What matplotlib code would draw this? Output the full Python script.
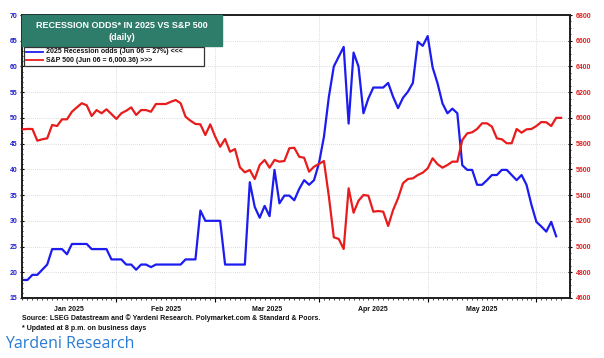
import numpy as np
import pandas as pd
import matplotlib
matplotlib.use("Agg")
import matplotlib.pyplot as plt
from matplotlib.patches import Rectangle
from matplotlib.lines import Line2D
from matplotlib.ticker import MultipleLocator, FixedLocator, NullFormatter

plt.rcParams['font.family'] = ['Liberation Sans', 'DejaVu Sans']

# daily readings, business days from Jan 7 2025
recession_odds = [
    18.5, 18.5, 19.5, 19.5, 20.5, 21.5, 24.5, 24.5, 24.5, 23.5,
    25.5, 25.5, 25.5, 25.5, 24.5, 24.5, 24.5, 24.5, 22.5, 22.5,
    22.5, 21.5, 21.5, 20.5, 21.5, 21.5, 21.0, 21.5, 21.5, 21.5,
    21.5, 21.5, 21.5, 22.5, 22.5, 22.5, 32.0, 30.0, 30.0, 30.0,
    30.0, 21.5, 21.5, 21.5, 21.5, 21.5, 37.5, 32.7, 30.6, 32.9,
    30.9, 39.9, 33.4, 34.9, 34.9, 34.0, 36.2, 37.9, 37.0, 37.9,
    41.2, 46.3, 54.1, 60.0, 61.9, 63.8, 48.9, 62.7, 60.0, 50.9,
    53.8, 55.9, 55.9, 55.9, 56.8, 54.1, 51.9, 53.9, 55.1, 56.8,
    64.8, 64.0, 65.9, 59.8, 56.7, 52.8, 50.9, 51.8, 50.9, 40.8,
    39.9, 39.9, 37.0, 37.0, 37.9, 38.9, 38.9, 39.9, 39.9, 38.9,
    37.9, 38.9, 37.0, 33.1, 29.8, 28.9, 27.9, 29.8, 27.0,
]
sp500 = [
    5911, 5914, 5914, 5823, 5834, 5841, 5945, 5937, 5989, 5989,
    6048, 6082, 6114, 6098, 6015, 6061, 6036, 6067, 6030, 5992,
    6036, 6056, 6082, 6023, 6061, 6061, 6048, 6108, 6108, 6108,
    6125, 6139, 6114, 6009, 5978, 5953, 5950, 5867, 5950, 5854,
    5776, 5836, 5737, 5758, 5616, 5577, 5595, 5525, 5634, 5673,
    5613, 5673, 5660, 5665, 5764, 5768, 5698, 5690, 5582, 5621,
    5642, 5665, 5390, 5072, 5059, 4981, 5453, 5263, 5356, 5401,
    5395, 5271, 5276, 5271, 5160, 5284, 5375, 5492, 5525, 5530,
    5556, 5574, 5608, 5686, 5640, 5613, 5634, 5660, 5660, 5828,
    5880, 5888, 5914, 5958, 5958, 5932, 5841, 5834, 5803, 5803,
    5914, 5885, 5911, 5914, 5937, 5968, 5966, 5937, 6000.36, 6000.36,
]
days = pd.bdate_range('2025-01-07', periods=len(sp500))
month_labels = ['Jan 2025', 'Feb 2025', 'Mar 2025', 'Apr 2025', 'May 2025']

x = np.arange(len(days))
month_start = [0] + [i for i in range(1, len(days)) if days[i].month != days[i - 1].month]

W, H = 604, 358
fig = plt.figure(figsize=(W / 100, H / 100), dpi=100)
ax = fig.add_axes([22 / W, 1 - 298 / H, (570 - 22) / W, (298 - 15) / H])
ax2 = ax.twinx()

blue = '#1c1cf0'
red = '#e81c1c'

ax.plot(x[:len(recession_odds)], recession_odds, color=blue, lw=1.6, zorder=3)
ax2.plot(x, sp500, color=red, lw=1.6, zorder=3)

ax.set_xlim(-0.1, 110.8)
ax.set_ylim(15, 70)
ax2.set_ylim(4600, 6800)

# grid
for v in range(15, 71, 5):
    ax.axhline(v, color='#cfcfcf', lw=0.6, ls=(0, (1, 1.5)), zorder=0)
for m in month_start[1:]:
    ax.axvline(m, color='#cfcfcf', lw=0.6, ls=(0, (1, 1.5)), zorder=0)

# ticks
ax.yaxis.set_major_locator(MultipleLocator(5))
ax.yaxis.set_minor_locator(MultipleLocator(1))
ax2.yaxis.set_major_locator(MultipleLocator(200))
ax2.yaxis.set_minor_locator(MultipleLocator(50))
ax.xaxis.set_major_locator(FixedLocator(month_start[1:]))
ax.xaxis.set_major_formatter(NullFormatter())
ax.xaxis.set_minor_locator(FixedLocator(x))

ax.tick_params(axis='y', which='major', labelsize=5, labelcolor='#2020d0', length=3, width=0.8, direction='inout', pad=2)
ax.tick_params(axis='y', which='minor', length=1.5, width=0.6, direction='inout')
ax2.tick_params(axis='y', which='major', labelsize=5, labelcolor='#e02020', length=3, width=0.8, direction='inout', pad=3)
ax2.tick_params(axis='y', which='minor', length=1.5, width=0.6, direction='inout')
ax.tick_params(axis='x', which='major', length=3, width=0.8, direction='out')
ax.tick_params(axis='x', which='minor', length=1.5, width=0.5, direction='out')
for t in ax.get_yticklabels() + ax2.get_yticklabels():
    t.set_fontweight('bold')

for a in (ax, ax2):
    for s in a.spines.values():
        s.set_color('#222222')
        s.set_linewidth(1.3)

# month labels centred between month starts
edges = month_start[:len(month_labels) + 1]
for k, lab in enumerate(month_labels):
    mid = (edges[k] + edges[k + 1]) / 2
    ax.text(mid, -0.03, lab, transform=ax.get_xaxis_transform(), ha='center', va='top',
            fontsize=5, fontweight='bold', color='#111111')

# title box
fig.patches.append(Rectangle((22 / W, 1 - 45.7 / H), 200 / W, 30.7 / H,
                             transform=fig.transFigure, color='#2e7d6b', zorder=5))
fig.text(122 / W, 1 - 25 / H, 'RECESSION ODDS* IN 2025 VS S&P 500', ha='center', va='center',
         fontsize=6.5, fontweight='bold', color='white', zorder=6)
fig.text(122 / W, 1 - 37.3 / H, '(daily)', ha='center', va='center',
         fontsize=6.5, fontweight='bold', color='white', zorder=6)

# legend box
fig.patches.append(Rectangle((24 / W, 1 - 65.7 / H), 180 / W, 19 / H, transform=fig.transFigure,
                             facecolor='white', edgecolor='#333333', lw=0.9, zorder=5))
for yy, c, lab in [(51.7, blue, '2025 Recession odds (Jun 06 = 27%) <<<'),
                   (60.0, red, 'S&P 500 (Jun 06 = 6,000.36) >>>')]:
    fig.lines.append(Line2D([26 / W, 42.7 / W], [1 - yy / H, 1 - yy / H], transform=fig.transFigure,
                            color=c, lw=1.3, zorder=6))
    fig.text(45.7 / W, 1 - yy / H, lab, ha='left', va='center', fontsize=5, fontweight='bold',
             color='#111111', zorder=6)

# footnotes
fig.text(22 / W, 1 - 318.3 / H,
         'Source: LSEG Datastream and \u00a9 Yardeni Research. Polymarket.com & Standard & Poors.',
         ha='left', va='center', fontsize=5, fontweight='bold', color='#111111')
fig.text(22 / W, 1 - 328.3 / H, '* Updated at 8 p.m. on business days',
         ha='left', va='center', fontsize=5, fontweight='bold', color='#111111')
fig.text(5 / W, 1 - 344 / H, 'Yardeni Research', ha='left', va='center', fontsize=11.5,
         family=['Open Sans', 'DejaVu Sans'], color='#2a7bd3')

fig.savefig('out.png', dpi=100)
